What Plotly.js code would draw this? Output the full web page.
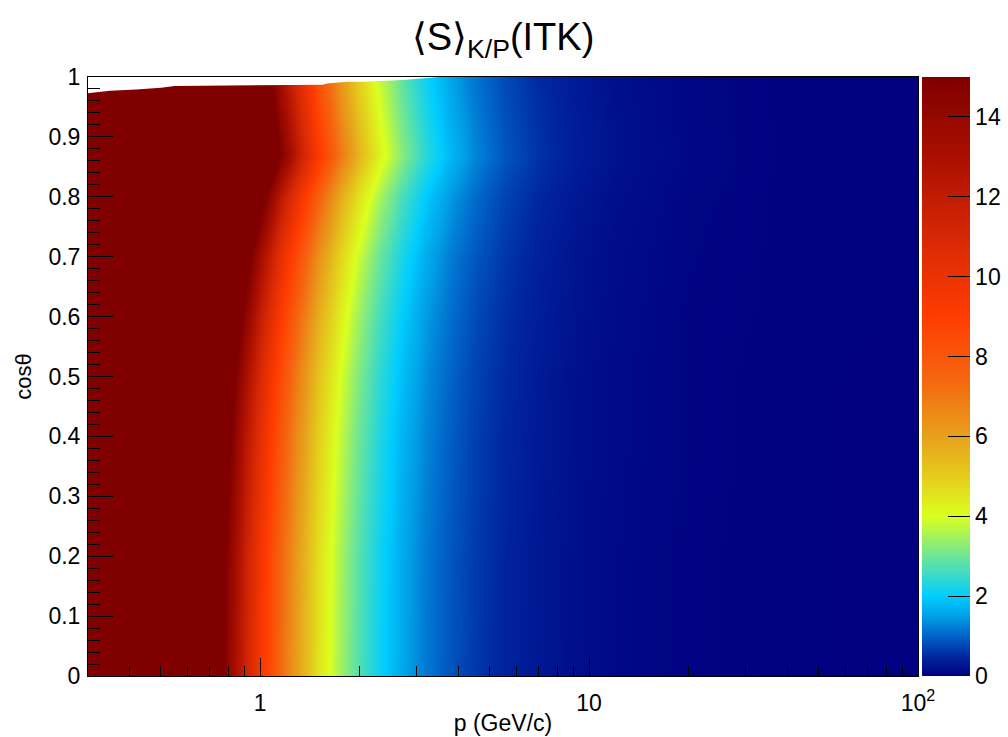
<!DOCTYPE html>
<html>
<head>
<meta charset="utf-8">
<script src="https://cdn.plot.ly/plotly-3.0.1.min.js"></script>
<style>html,body{margin:0;padding:0;background:#fff;}#chart{width:1008px;height:737px;}</style>
</head>
<body>
<div id="chart"></div>
<script>
// momentum grid (GeV/c)
const pVals = [0.3, 0.5, 0.7, 0.8, 0.9, 1.0, 1.15, 1.3, 1.5, 1.75, 2.0, 2.3, 2.7, 3.2, 3.8, 4.5, 5.5, 7, 9, 12, 20, 40, 100];
// cos(theta) grid
const cosVals = [0, 0.2, 0.4, 0.5, 0.6, 0.7, 0.8, 0.87, 0.93, 1.0];
// separation power <S>_{K/P}, one row per cos(theta)
const sCos000 = [82.9, 33.1, 18.1, 14.2, 11.5, 9.5, 7.39, 5.92, 4.58, 3.47, 2.73, 2.12, 1.59, 1.17, 0.86, 0.63, 0.44, 0.29, 0.18, 0.11, 0.04, 0.01, 0.00];
const sCos020 = [84.6, 33.8, 18.4, 14.5, 11.7, 9.69, 7.54, 6.04, 4.67, 3.54, 2.78, 2.16, 1.62, 1.19, 0.88, 0.65, 0.45, 0.29, 0.19, 0.11, 0.04, 0.01, 0.00];
const sCos040 = [90.4, 36.1, 19.7, 15.5, 12.5, 10.36, 8.06, 6.45, 4.99, 3.78, 2.98, 2.31, 1.73, 1.28, 0.94, 0.69, 0.48, 0.31, 0.20, 0.12, 0.05, 0.01, 0.00];
const sCos050 = [95.3, 38.1, 20.8, 16.3, 13.2, 10.9, 8.50, 6.81, 5.27, 3.99, 3.14, 2.44, 1.83, 1.35, 0.99, 0.73, 0.51, 0.33, 0.21, 0.12, 0.05, 0.01, 0.00];
const sCos060 = [103.6, 41.4, 22.6, 17.8, 14.4, 11.9, 9.24, 7.40, 5.73, 4.34, 3.41, 2.65, 1.99, 1.46, 1.08, 0.79, 0.55, 0.36, 0.23, 0.14, 0.05, 0.02, 0.00];
const sCos070 = [116, 46.3, 25.3, 19.9, 16.1, 13.3, 10.3, 8.29, 6.41, 4.86, 3.82, 2.97, 2.23, 1.64, 1.20, 0.89, 0.62, 0.40, 0.25, 0.15, 0.06, 0.02, 0.00];
const sCos080 = [138, 55.3, 30.1, 23.7, 19.2, 15.9, 12.3, 9.89, 7.65, 5.79, 4.56, 3.54, 2.66, 1.95, 1.44, 1.06, 0.73, 0.48, 0.30, 0.18, 0.07, 0.02, 0.00];
const sCos087 = [168, 67.2, 36.6, 28.8, 23.3, 19.3, 15.0, 12.0, 9.30, 7.04, 5.54, 4.30, 3.23, 2.38, 1.75, 1.29, 0.89, 0.58, 0.37, 0.22, 0.09, 0.02, 0.00];
const sCos093 = [159, 63.6, 34.7, 27.3, 22.1, 18.2, 14.2, 11.4, 8.79, 6.66, 5.24, 4.07, 3.05, 2.25, 1.65, 1.22, 0.84, 0.55, 0.35, 0.21, 0.08, 0.02, 0.00];
const sCos100 = [149, 59.6, 32.5, 25.6, 20.7, 17.1, 13.3, 10.7, 8.24, 6.25, 4.91, 3.82, 2.86, 2.11, 1.55, 1.14, 0.79, 0.51, 0.33, 0.19, 0.08, 0.02, 0.00];

// upper edge of the covered region (above it: no data)
const edgeP   = [0.3, 0.35, 0.42, 0.5, 0.55, 1.07, 1.55, 1.6, 1.84, 2.06, 2.72, 3.5];
const edgeCos = [0.973, 0.977, 0.979, 0.982, 0.985, 0.986, 0.987, 0.989, 0.992, 0.992, 0.995, 1.0];

// axis ticks
const xTickVals = [1, 10, 100];
const xTickText = ['1', '10', '10<sup>2</sup>'];
const xMinorVals = [0.3,0.4,0.5,0.6,0.7,0.8,0.9,2,3,4,5,6,7,8,9,20,30,40,50,60,70,80,90];
const cbTickVals = [0, 2, 4, 6, 8, 10, 12, 14];

const zRows = [sCos000, sCos020, sCos040, sCos050, sCos060, sCos070, sCos080, sCos087, sCos093, sCos100];

const jet = [
  [0.0, 'rgb(0,0,128)'],
  [0.033, 'rgb(0,40,160)'],
  [0.067, 'rgb(0,100,200)'],
  [0.1, 'rgb(0,160,230)'],
  [0.133, 'rgb(0,205,255)'],
  [0.2, 'rgb(110,230,150)'],
  [0.267, 'rgb(220,255,30)'],
  [0.333, 'rgb(228,205,28)'],
  [0.4, 'rgb(232,160,28)'],
  [0.5, 'rgb(245,100,15)'],
  [0.6, 'rgb(255,60,0)'],
  [0.733, 'rgb(215,40,5)'],
  [0.867, 'rgb(170,15,0)'],
  [1.0, 'rgb(128,0,0)']
];

const FONT = '"Liberation Sans", Arial, Helvetica, sans-serif';

const heat = {
  type: 'heatmap',
  x: pVals,
  y: cosVals,
  z: zRows,
  zmin: 0,
  zmax: 15,
  zsmooth: 'best',
  colorscale: jet,
  hoverinfo: 'skip',
  colorbar: {
    x: 1.0045, xanchor: 'left', xpad: 0, ypad: 0,
    y: 0, yanchor: 'bottom', len: 1, lenmode: 'fraction',
    thickness: 48, thicknessmode: 'pixels',
    tickmode: 'array', tickvals: cbTickVals,
    ticks: 'inside', ticklen: 22, tickcolor: '#000', tickwidth: 1,
    tickfont: {family: FONT, size: 23, color: '#000'},
    outlinewidth: 0
  }
};

const edgeX = edgeP.concat([0.3]);
const edgeY = edgeCos.concat([1.0]);
const blank = {
  type: 'scatter', mode: 'lines',
  x: edgeX, y: edgeY,
  fill: 'toself', fillcolor: '#ffffff',
  line: {width: 0, color: 'rgba(0,0,0,0)'},
  hoverinfo: 'skip', showlegend: false
};

const layout = {
  width: 1008, height: 737,
  margin: {l: 88, r: 90, t: 77, b: 61, autoexpand: false},
  paper_bgcolor: '#fff', plot_bgcolor: '#fff',
  showlegend: false,
  font: {family: FONT, color: '#000'},
  title: {
    text: '⟨S⟩<sub>K/P</sub>(ITK)',
    font: {family: FONT, size: 38, color: '#000'},
    x: 0.5, xref: 'paper', xanchor: 'center',
    y: 0.95, yref: 'container', yanchor: 'middle'
  },
  xaxis: {
    type: 'log',
    range: [Math.log10(0.3), 2],
    tickmode: 'array', tickvals: xTickVals, ticktext: xTickText,
    ticks: 'inside', ticklen: 18, tickcolor: '#000', tickwidth: 1,
    minor: {tickmode: 'array', tickvals: xMinorVals, ticks: 'inside', ticklen: 10, tickcolor: '#000', tickwidth: 1, showgrid: false},
    tickfont: {family: FONT, size: 23, color: '#000'},
    ticklabelstandoff: 6,
    showgrid: false, zeroline: false, automargin: false,
    showline: true, linecolor: '#000', linewidth: 1, mirror: true,
    title: {text: 'p (GeV/c)', font: {family: FONT, size: 23, color: '#000'}, standoff: 0}
  },
  yaxis: {
    range: [0, 1],
    tickmode: 'linear', tick0: 0, dtick: 0.1,
    ticks: 'inside', ticklen: 25, tickcolor: '#000', tickwidth: 1,
    minor: {tickmode: 'linear', tick0: 0, dtick: 0.02, ticks: 'inside', ticklen: 12, tickcolor: '#000', tickwidth: 1, showgrid: false},
    tickfont: {family: FONT, size: 23, color: '#000'},
    ticklabelstandoff: 2,
    showgrid: false, zeroline: false, automargin: false,
    showline: true, linecolor: '#000', linewidth: 1, mirror: true,
    title: {text: 'cosθ', font: {family: FONT, size: 22, color: '#000'}, standoff: 10}
  }
};

Plotly.newPlot('chart', [heat, blank], layout, {displayModeBar: false, staticPlot: true});
</script>
</body>
</html>
